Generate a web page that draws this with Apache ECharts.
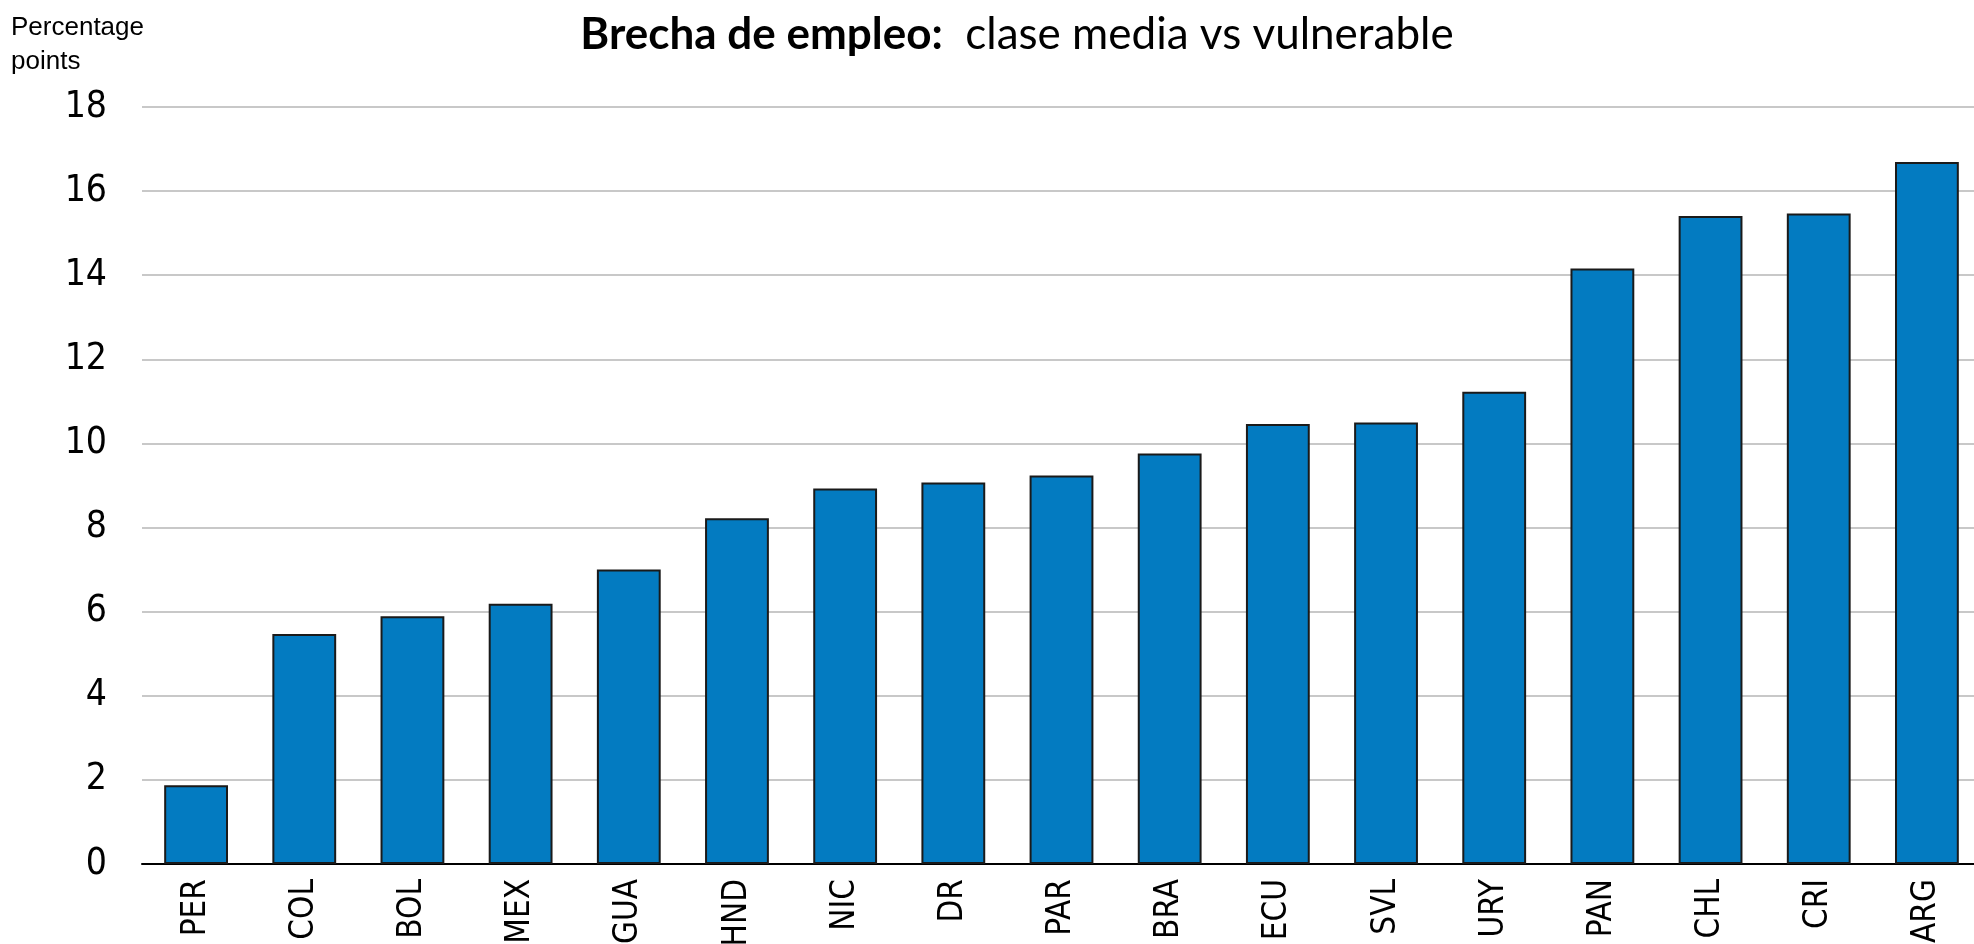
<!DOCTYPE html>
<html>
<head>
<meta charset="utf-8">
<script src="https://cdn.jsdelivr.net/npm/echarts@6/dist/echarts.min.js"></script>
<style>
    html, body { margin: 0; padding: 0; background: #fff; }
    #chart { width: 1974px; height: 944px; }
</style>
</head>
<body>
<div id="chart"></div>
<script>
    // countries, ordered as in the picture
    var countries = ['PER', 'COL', 'BOL', 'MEX', 'GUA', 'HND', 'NIC', 'DR', 'PAR', 'BRA', 'ECU', 'SVL', 'URY', 'PAN', 'CHL', 'CRI', 'ARG'];
    // employment gap, percentage points
    var gap = [1.87, 5.47, 5.89, 6.19, 7.0, 8.22, 8.93, 9.07, 9.24, 9.76, 10.46, 10.5, 11.23, 14.16, 15.41, 15.47, 16.69];
    var yTicks = [0, 2, 4, 6, 8, 10, 12, 14, 16, 18];

    var narrow = '"Liberation Sans Narrow", "Arial Narrow", "DejaVu Sans Condensed", "Liberation Sans", sans-serif';
    var chart = echarts.init(document.getElementById('chart'));
    chart.setOption({
        animation: false,
        title: [
            {
                text: '{b|Brecha de empleo:}{n|  clase media vs vulnerable}',
                left: 1012,
                textAlign: 'center',
                top: 8,
                textStyle: {
                    rich: {
                        b: { fontFamily: 'Lato', fontWeight: 'bold', fontSize: 44, color: '#000' },
                        n: { fontFamily: 'Lato', fontWeight: 'normal', fontSize: 44, color: '#000' }
                    }
                }
            },
            {
                text: 'Percentage\npoints',
                left: 6,
                top: 6,
                textStyle: {
                    fontFamily: '"Liberation Sans", Arial, sans-serif',
                    fontWeight: 'normal',
                    fontSize: 26,
                    lineHeight: 34,
                    color: '#000'
                }
            }
        ],
        grid: {
            left: 142,
            right: -7,
            top: 107,
            bottom: 80,
            outerBoundsMode: 'none'
        },
        xAxis: {
            type: 'category',
            data: countries,
            axisLine: { lineStyle: { color: '#000', width: 2 } },
            axisTick: { inside: true, length: 12, lineStyle: { color: '#000', width: 2 } },
            axisLabel: {
                rotate: 90,
                interval: 0,
                margin: 15,
                fontFamily: narrow,
                fontSize: 33,
                color: '#000'
            }
        },
        yAxis: {
            type: 'value',
            min: yTicks[0],
            max: yTicks[yTicks.length - 1],
            interval: 2,
            axisLine: { show: false },
            axisTick: { show: false },
            splitLine: { lineStyle: { color: '#c8c8c8', width: 2 } },
            axisLabel: {
                margin: 35,
                fontFamily: narrow,
                fontSize: 37,
                color: '#000'
            }
        },
        series: [{
            type: 'bar',
            data: gap,
            barWidth: '59%',
            itemStyle: {
                color: '#037bc1',
                borderColor: '#1a1a1a',
                borderWidth: 2
            }
        }]
    });
</script>
</body>
</html>
